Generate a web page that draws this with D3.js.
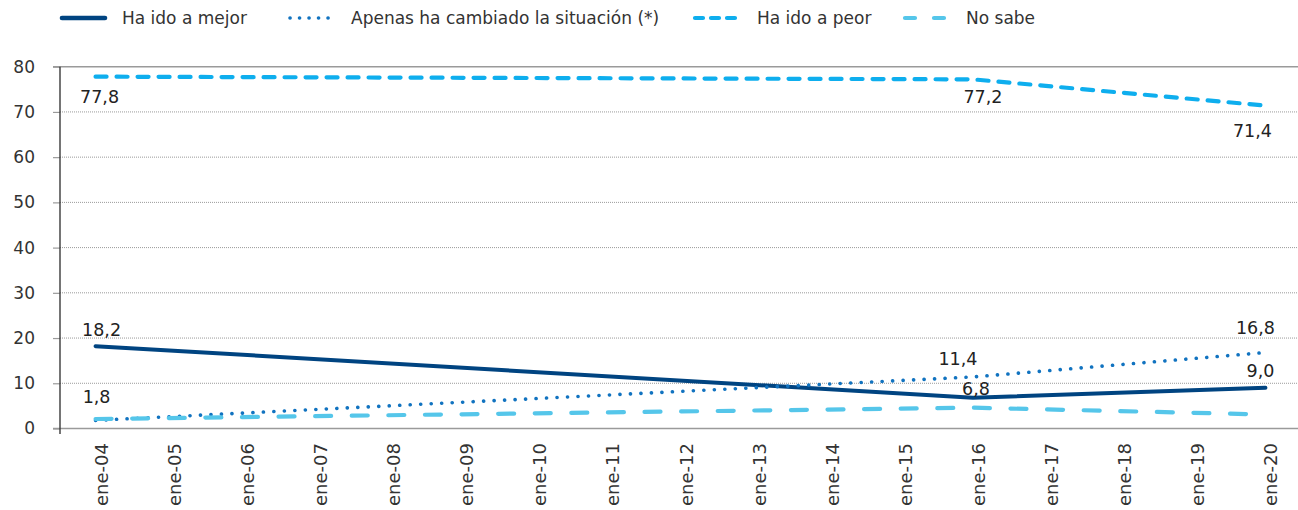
<!DOCTYPE html>
<html>
<head>
<meta charset="utf-8">
<script src="https://cdn.jsdelivr.net/npm/d3@7"></script>
<style>
  body { margin: 0; background: #fff; }
  svg { display: block; font-family: "DejaVu Sans", Verdana, sans-serif; }
</style>
</head>
<body>
<div id="chart"></div>
<script>
// categories (years) and series values; null = no survey that year
const years = ["ene-04", "ene-05", "ene-06", "ene-07", "ene-08", "ene-09", "ene-10", "ene-11",
  "ene-12", "ene-13", "ene-14", "ene-15", "ene-16", "ene-17", "ene-18", "ene-19", "ene-20"];

const mejor   = [18.2, null, null, null, null, null, null, null, null, null, null, null, 6.8, null, null, null, 9.0];
const apenas  = [1.8, null, null, null, null, null, null, null, null, null, null, null, 11.4, null, null, null, 16.8];
const peor    = [77.8, null, null, null, null, null, null, null, null, null, null, null, 77.2, null, null, null, 71.4];
const noSabe  = [2.1, null, null, null, null, null, null, null, null, null, null, null, 4.6, null, null, null, 3.1];

const yTicks = [0, 10, 20, 30, 40, 50, 60, 70, 80];

const seriesNames = ["Ha ido a mejor", "Apenas ha cambiado la situación (*)", "Ha ido a peor", "No sabe"];

/**
 * Line styles, in legend order. `labels` gives the offset of each value label
 * from its point (index in years -> [dx, dy]).
 */
const styles = [
  { color: "#004481", width: 4, dash: null, labels: { 0: [6, -10], 12: [3, -3], 16: [-5, -11] } },
  { color: "#1173c0", width: 3.6, dash: "0.1 10.4", labels: { 0: [1, -17], 12: [-15, -12], 16: [-10, -19] } },
  { color: "#0eaeee", width: 4.2, dash: "11 10", labels: { 0: [4, 26], 12: [10, 24], 16: [-13, 31] } },
  { color: "#55c6ea", width: 4.2, dash: "16 20.6", labels: {} }
];

// legend swatch placement
const legendX = [60, 288, 693, 903];
const legendLen = [47, 48, 45, 45];
const legendTextX = [122, 351, 757, 966];
const legendDash = [null, "0.1 9.4", "8 8", "10 19"];

const values = [mejor, apenas, peor, noSabe];

const drawChart = function (selector) {
  const width = 1298;
  const height = 510;

  const x = d3.scaleBand()
    .domain(years)
    .range([59, 1302]);

  const y = d3.scaleLinear()
    .domain([0, 80])
    .range([428.5, 66.7]);

  const svg = d3.select(selector).append("svg")
    .attr("width", width)
    .attr("height", height);

  const cx = d => x(d) + x.bandwidth() / 2;

  // Gridlines
  svg.append("g")
    .selectAll("line")
    .data(yTicks.filter(t => t > 0 && t < 80))
    .join("line")
    .attr("x1", 60)
    .attr("x2", width)
    .attr("y1", d => y(d))
    .attr("y2", d => y(d))
    .attr("stroke", "#9a9a9a")
    .attr("stroke-width", 1)
    .attr("stroke-dasharray", "1 1");

  // Top frame line and bottom axis
  svg.append("line")
    .attr("x1", 53).attr("x2", width)
    .attr("y1", y(80)).attr("y2", y(80))
    .attr("stroke", "#9a9a9a").attr("stroke-width", 1.6);

  svg.append("line")
    .attr("x1", 53).attr("x2", width)
    .attr("y1", y(0)).attr("y2", y(0))
    .attr("stroke", "#9a9a9a").attr("stroke-width", 1.6);

  // Y axis
  const yAxis = svg.append("g")
    .attr("transform", "translate(60,0)")
    .call(d3.axisLeft(y).tickValues(yTicks).tickSize(7).tickPadding(18).tickFormat(d3.format("d")));

  yAxis.select(".domain").remove();
  yAxis.selectAll(".tick line").attr("stroke", "#9a9a9a").attr("stroke-width", 1.2);
  yAxis.selectAll(".tick text")
    .attr("fill", "#333")
    .attr("font-size", 17)
    .attr("font-family", "\"DejaVu Sans\", Verdana, sans-serif");

  svg.append("line")
    .attr("x1", 60).attr("x2", 60)
    .attr("y1", y(80)).attr("y2", 434)
    .attr("stroke", "#3a3a3a").attr("stroke-width", 1.4);

  // X axis labels (rotated)
  svg.append("g")
    .selectAll("text")
    .data(years)
    .join("text")
    .attr("transform", d => `translate(${cx(d) + 12},443) rotate(-90)`)
    .attr("text-anchor", "end")
    .attr("font-size", 18)
    .attr("fill", "#333")
    .text(d => d);

  const line = d3.line()
    .x(d => cx(d.year))
    .y(d => y(d.value));

  const points = values.map(arr => arr
    .map((v, i) => ({ year: years[i], value: v, i: i }))
    .filter(d => d.value !== null));

  // draw order: mejor, apenas, peor, no sabe
  [0, 1, 2, 3].forEach(k => {
    svg.append("path")
      .datum(points[k])
      .attr("fill", "none")
      .attr("stroke", styles[k].color)
      .attr("stroke-width", styles[k].width)
      .attr("stroke-linecap", "round")
      .attr("stroke-linejoin", "round")
      .attr("stroke-dasharray", styles[k].dash)
      .attr("d", line);
  });

  // Value labels
  const fmt = v => d3.format(".1f")(v).replace(".", ",");

  [0, 1, 2].forEach(k => {
    svg.append("g")
      .selectAll("text")
      .data(points[k].filter(d => styles[k].labels[d.i]))
      .join("text")
      .attr("x", d => cx(d.year) + styles[k].labels[d.i][0])
      .attr("y", d => y(d.value) + styles[k].labels[d.i][1])
      .attr("text-anchor", "middle")
      .attr("font-size", 17.5)
      .attr("fill", "#222")
      .text(d => fmt(d.value));
  });

  // Legend
  const legend = svg.append("g")
    .selectAll("g")
    .data(seriesNames)
    .join("g");

  legend.append("line")
    .attr("x1", (d, i) => legendX[i] + 2)
    .attr("x2", (d, i) => legendX[i] + legendLen[i] - 2)
    .attr("y1", 18).attr("y2", 18)
    .attr("stroke", (d, i) => styles[i].color)
    .attr("stroke-width", (d, i) => i === 0 ? 4.6 : styles[i].width)
    .attr("stroke-linecap", "round")
    .attr("stroke-dasharray", (d, i) => legendDash[i]);

  legend.append("text")
    .attr("x", (d, i) => legendTextX[i])
    .attr("y", 24)
    .attr("font-size", 17)
    .attr("fill", "#333")
    .text(d => d);
};

(function () {
  drawChart("#chart");
})();
</script>
</body>
</html>
